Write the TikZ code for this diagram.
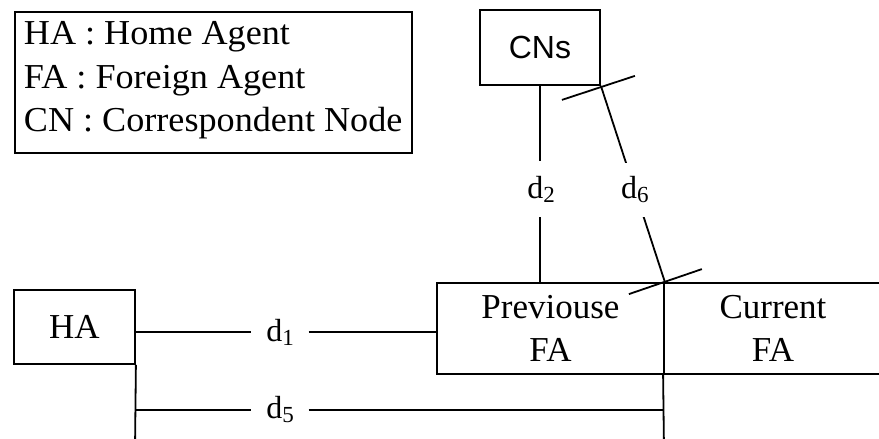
\documentclass[tikz,border=0pt]{standalone}
\usepackage{fontspec}
\setmainfont{Liberation Serif}
\newfontfamily\cnfont{Liberation Sans}
\newfontfamily\legendfont{Liberation Serif}[FakeStretch=1.033]
\usetikzlibrary{calc}
\newcommand{\dist}[1]{d\raisebox{-4pt}{\fontsize{23}{23}\selectfont #1}}
\begin{document}
\begin{tikzpicture}[x=1pt,y=-1pt,
  line width=1.8pt,
  every node/.style={font=\fontsize{35}{43}\selectfont, inner sep=0pt},
  box/.style={draw, line width=1.8pt, align=center},
  legendtext/.style={anchor=base west, font=\legendfont\fontsize{35}{43}\selectfont},
  dlabel/.style={font=\fontsize{32}{36}\selectfont, fill=white, inner xsep=14pt, inner ysep=14pt}
]
\clip (0,0) rectangle (879,439);

% legend
\node[box, anchor=north west, minimum width=397pt, minimum height=141pt] (legend) at (14,11) {};
\node[legendtext] (l1) at (23,45) {HA : Home Agent};
\node[legendtext] (l2) at (23,88) {FA : Foreign Agent};
\node[legendtext] (l3) at (23,131) {CN : Correspondent Node};

% agents
\node[box, minimum width=120pt, minimum height=75pt, font=\cnfont\fontsize{32}{36}\selectfont] (cn) at (540,47.5) {CNs};
\node[box, minimum width=121pt, minimum height=74pt] (ha) at (74.5,327) {HA};
\node[box, minimum width=227pt, minimum height=91pt] (prev) at (550.5,328.5) {Previouse\\FA};
\node[box, minimum width=218pt, minimum height=91pt] (cur) at (773,328.5) {Current\\FA};

% distance labels
\node[dlabel] (d1) at (280,332) {\dist{1}};
\node[dlabel] (d5) at (280,410) {\dist{5}};
\node[dlabel] (d2) at (541,189) {\dist{2}};

% HA -- previous FA
\draw (d1.west -| ha.east) -- (d1.west);
\draw (d1.east) -- (d1.east -| prev.west);

% HA -- current FA
\coordinate (haend) at (135,450);
\coordinate (curend) at (664,450);
\draw (ha.south east) -- (haend);
\draw (cur.south west) -- (curend);
\draw (d5.west -| ha.east) -- (d5.west);
\draw (d5.east) -- (d5.east -| cur.west);

% CNs -- previous FA
\draw (cn.south) -- (cn.south |- d2.north);
\draw (cn.south |- d2.south) -- (cn.south |- prev.north);

% CNs -- current FA
\draw (cn.south east) -- node[dlabel, pos=0.53] (d6) {\dist{6}} (prev.north east);
\draw ($(cn.south east)+(-39,14)$) -- ($(cn.south east)+(34,-10)$);
\draw ($(prev.north east)+(-36,12)$) -- ($(prev.north east)+(37,-13)$);
\end{tikzpicture}
\end{document}
